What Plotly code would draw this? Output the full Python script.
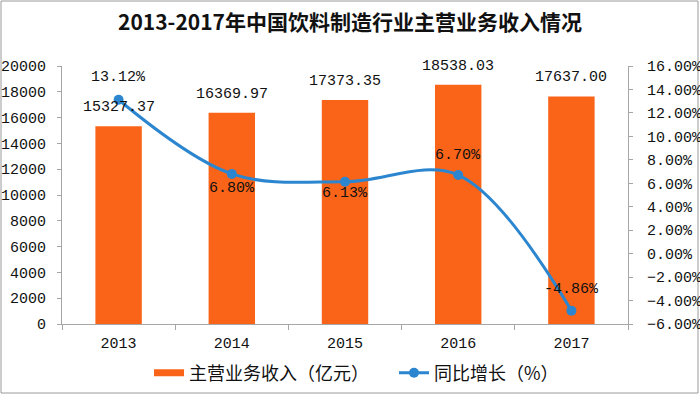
import plotly.graph_objects as go

years = ["2013", "2014", "2015", "2016", "2017"]
revenue = [15327.37, 16369.97, 17373.35, 18538.03, 17637.00]
growth = [13.12, 6.80, 6.13, 6.70, -4.86]

title_text = "2013-2017年中国饮料制造行业主营业务收入情况"
bar_name = "主营业务收入（亿元）"
line_name = "同比增长（%）"

ORANGE = "#FA6419"
BLUE = "#2C86CF"
AXIS = "#A6A6A6"
TXT = "#111111"
FONT = "Liberation Mono, Noto Sans CJK SC, monospace"

# vertical pixel offsets of growth labels (style)
growth_label_shift = [22, -15, -12, 20, 21]

W, H = 700, 396
L, T, PW, PH = 62, 66, 566, 258

fig = go.Figure()
fig.add_trace(go.Bar(x=years, y=revenue, marker=dict(color=ORANGE, line=dict(width=0)),
                     showlegend=False, name=bar_name, yaxis="y"))
# legend stand-in for the bar series (wide flat swatch)
fig.add_trace(go.Scatter(x=[years[0]], y=[None], mode="lines", name=bar_name,
                         line=dict(color=ORANGE, width=7), yaxis="y"))
fig.add_trace(go.Scatter(x=years, y=growth, mode="lines+markers", name=line_name,
                         line=dict(color=BLUE, width=3, shape="spline", smoothing=1.0),
                         marker=dict(color=BLUE, size=10), yaxis="y2"))

annotations = []
for i, v in enumerate(revenue):
    annotations.append(dict(x=i, y=v, xref="x", yref="y", text=f"{v:.2f}",
                            showarrow=False, yanchor="bottom", yshift=8,
                            font=dict(family=FONT, size=15, color=TXT)))
for i, (g, s) in enumerate(zip(growth, growth_label_shift)):
    annotations.append(dict(x=i, y=g, xref="x", yref="y2", text=f"{g:.2f}%",
                            showarrow=False, yanchor="middle", yshift=s,
                            font=dict(family=FONT, size=15, color=TXT)))

fig.update_layout(
    width=W, height=H,
    margin=dict(l=L, r=W - L - PW, t=T, b=H - T - PH, autoexpand=False),
    paper_bgcolor="white", plot_bgcolor="white",
    font=dict(family=FONT, size=15, color=TXT),
    title=dict(text=title_text, x=0.5, xanchor="center", y=1 - 23 / H, yanchor="middle",
               xref="container", yref="container",
               font=dict(family="Noto Sans CJK SC, sans-serif", size=21, color=TXT, weight="bold")),
    bargap=0.59,
    xaxis=dict(type="category", range=[-0.5, len(years) - 0.5], showline=True, linecolor=AXIS,
               linewidth=1, ticks="outside", tickson="boundaries", ticklen=5, tickcolor=AXIS,
               showgrid=False, automargin=False, ticklabelstandoff=5,
               tickfont=dict(family=FONT, size=15, color=TXT)),
    yaxis=dict(range=[0, 20000], dtick=2000, showline=True, linecolor=AXIS, linewidth=1,
               ticks="outside", ticklen=4, tickcolor=AXIS, showgrid=False, zeroline=False,
               automargin=False, ticklabelstandoff=8, tickformat="d",
               tickfont=dict(family=FONT, size=15, color=TXT)),
    yaxis2=dict(range=[-6, 16], dtick=2, overlaying="y", side="right", showline=True,
                linecolor=AXIS, linewidth=1, ticks="outside", ticklen=4, tickcolor=AXIS,
                showgrid=False, zeroline=False, automargin=False, ticklabelstandoff=11,
                tickformat=".2f", ticksuffix="%",
                tickfont=dict(family=FONT, size=15, color=TXT)),
    legend=dict(orientation="h", x=(149 - L) / PW, xanchor="left", y=1 - 373 / H, yanchor="middle",
                yref="container", entrywidth=200, entrywidthmode="pixels",
                font=dict(family="Noto Sans CJK SC, sans-serif", size=18, color=TXT),
                bgcolor="rgba(0,0,0,0)"),
    annotations=annotations,
    shapes=[dict(type="rect", xref="paper", yref="paper",
                 x0=(1 - L) / PW, x1=(698 - L) / PW, y0=(T + PH - 393) / PH, y1=(T + PH - 1) / PH,
                 line=dict(color="#9A9A9A", width=1), fillcolor="rgba(0,0,0,0)", layer="below")],
)

fig.write_html("out.html", config={"displayModeBar": False},
               post_script="document.body.style.margin='0';")
